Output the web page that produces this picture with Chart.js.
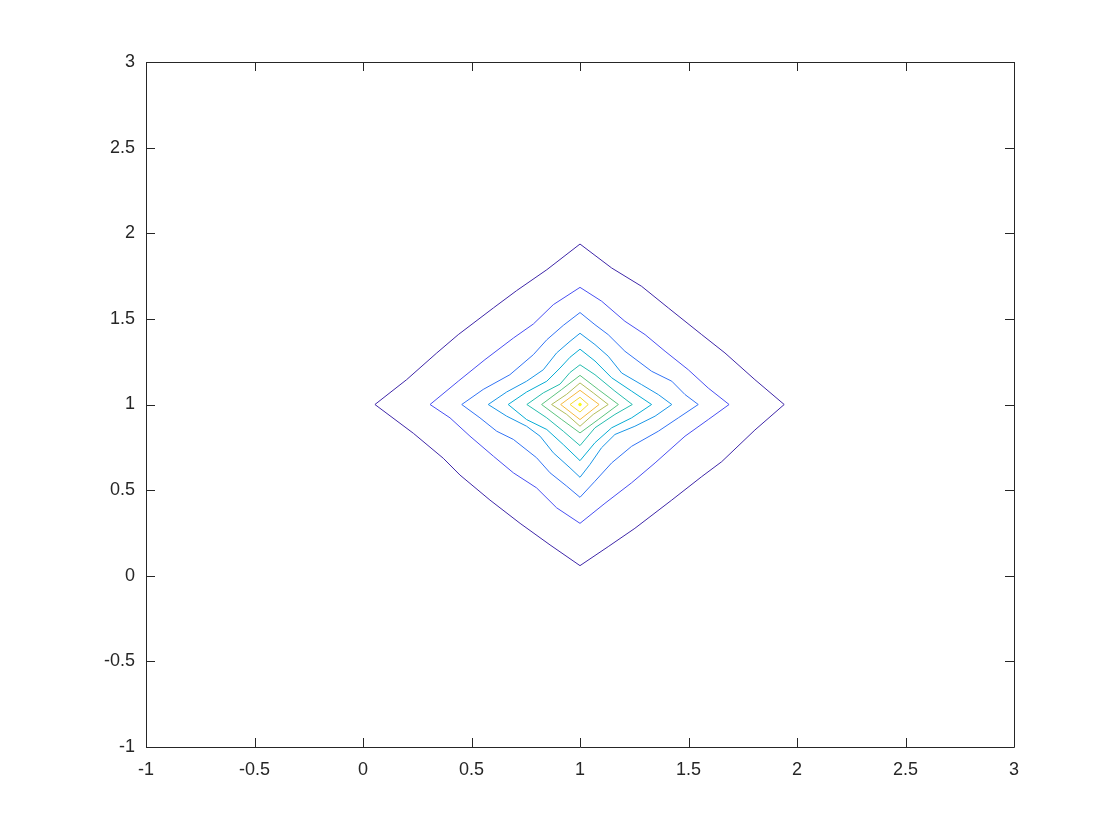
<!DOCTYPE html>
<html>
<head>
<meta charset="utf-8">
<script src="https://cdn.jsdelivr.net/npm/chart.js@4/dist/chart.umd.min.js"></script>
<style>
  html, body { margin: 0; padding: 0; background: #ffffff; }
  #canvas { display: block; }
</style>
</head>
<body>
<canvas id="canvas" width="1120" height="840"></canvas>
<script>
// contour lines, outer -> inner, each closed
var contour1 = [[0.055,1.0],[0.201,1.145],[0.340,1.301],[0.439,1.408],[0.601,1.564],[0.708,1.665],[0.847,1.787],[1.0,1.937],
  [1.146,1.797],[1.284,1.690],[1.407,1.564],[1.561,1.408],[1.668,1.301],[1.806,1.145],[1.941,1.0],
  [1.806,0.851],[1.653,0.666],[1.561,0.579],[1.423,0.442],[1.253,0.277],[1.130,0.170],[1.0,0.059],
  [0.862,0.180],[0.724,0.306],[0.585,0.442],[0.447,0.588],[0.370,0.686],[0.232,0.832],[0.055,1.0]];
var contour2 = [[0.309,1.0],[0.439,1.136],[0.562,1.262],[0.693,1.388],[0.785,1.470],[0.877,1.583],[1.0,1.684],
  [1.100,1.603],[1.207,1.486],[1.300,1.408],[1.392,1.311],[1.499,1.203],[1.591,1.096],[1.687,1.0],
  [1.591,0.912],[1.484,0.815],[1.346,0.659],[1.238,0.543],[1.115,0.423],[1.0,0.306],
  [0.892,0.397],[0.800,0.513],[0.693,0.601],[0.601,0.698],[0.493,0.815],[0.401,0.922],[0.309,1.0]];
var contour3 = [[0.455,1.0],[0.554,1.088],[0.677,1.174],[0.785,1.291],[0.847,1.378],[0.923,1.462],[1.0,1.537],
  [1.069,1.466],[1.130,1.408],[1.207,1.311],[1.330,1.194],[1.423,1.136],[1.484,1.058],[1.545,1.0],
  [1.453,0.922],[1.361,0.844],[1.238,0.756],[1.146,0.659],[1.069,0.552],[1.0,0.458],
  [0.939,0.523],[0.862,0.601],[0.800,0.689],[0.693,0.796],[0.616,0.844],[0.539,0.922],[0.455,1.0]];
var contour4 = [[0.577,1.0],[0.662,1.073],[0.754,1.136],[0.831,1.203],[0.892,1.301],[0.954,1.369],[1.0,1.416],
  [1.069,1.350],[1.130,1.282],[1.192,1.184],[1.284,1.116],[1.361,1.058],[1.423,1.0],
  [1.346,0.932],[1.253,0.873],[1.161,0.825],[1.099,0.747],[1.046,0.650],[1.0,0.575],
  [0.954,0.630],[0.877,0.718],[0.816,0.815],[0.754,0.873],[0.662,0.932],[0.577,1.0]];
var contour5 = [[0.669,1.0],[0.754,1.073],[0.847,1.136],[0.908,1.213],[0.954,1.276],[1.0,1.323],
  [1.069,1.254],[1.146,1.156],[1.238,1.078],[1.330,1.0],
  [1.238,0.922],[1.146,0.864],[1.069,0.777],[1.0,0.672],
  [0.923,0.766],[0.847,0.854],[0.754,0.912],[0.669,1.0]];
var contour6 = [[0.755,1.0],[0.831,1.068],[0.908,1.119],[0.954,1.187],[1.0,1.232],
  [1.069,1.174],[1.161,1.078],[1.241,1.0],
  [1.161,0.942],[1.069,0.864],[1.0,0.760],
  [0.923,0.844],[0.847,0.922],[0.755,1.0]];
var contour7 = [[0.823,1.0],[0.916,1.088],[1.0,1.170],[1.084,1.088],[1.177,1.0],[1.084,0.912],[1.0,0.834],[0.916,0.912],[0.823,1.0]];
var contour8 = [[0.869,1.0],[0.939,1.060],[1.0,1.126],[1.061,1.068],[1.130,1.0],[1.061,0.942],[1.0,0.873],[0.939,0.942],[0.869,1.0]];
var contour9 = [[0.911,1.0],[1.0,1.083],[1.088,1.0],[1.0,0.912],[0.911,1.0]];
var contour10 = [[0.954,1.0],[1.0,1.042],[1.038,1.0],[1.0,0.956],[0.954,1.0]];
var contour11 = [[1.0,1.0]];

var contours = [contour1, contour2, contour3, contour4, contour5, contour6, contour7, contour8, contour9, contour10, contour11];
var levelColors = ['#3e26a8','#484ff2','#3273f5','#1a96e6','#06acd4','#25bcae','#5cc37e','#b1bd5a','#f5b93f','#f4d831','#f9fb15'];

var xTicks = [-1, -0.5, 0, 0.5, 1, 1.5, 2, 2.5, 3];
var yTicks = [-1, -0.5, 0, 0.5, 1, 1.5, 2, 2.5, 3];

var axisColor = '#262626';

// matlab style box with inward ticks on all four sides
var boxPlugin = {
  id: 'box',
  afterDraw: function(chart) {
    var c = chart.ctx, a = chart.chartArea;
    var xs = chart.scales.x, ys = chart.scales.y;
    var len = 9;
    c.save();
    c.strokeStyle = axisColor;
    c.lineWidth = 1;
    c.beginPath();
    c.rect(Math.round(a.left) + 0.5, Math.round(a.top) + 0.5, Math.round(a.right - a.left), Math.round(a.bottom - a.top));
    xTicks.forEach(function(v) {
      var px = Math.round(xs.getPixelForValue(v)) + 0.5;
      c.moveTo(px, a.bottom); c.lineTo(px, a.bottom - len);
      c.moveTo(px, a.top); c.lineTo(px, a.top + len);
    });
    yTicks.forEach(function(v) {
      var py = Math.round(ys.getPixelForValue(v)) + 0.5;
      c.moveTo(a.left, py); c.lineTo(a.left + len, py);
      c.moveTo(a.right, py); c.lineTo(a.right - len, py);
    });
    c.stroke();
    c.restore();
  }
};

var datasets = contours.map(function(pts, i) {
  return {
    label: 'level ' + (i + 1),
    data: pts.map(function(p) { return { x: p[0], y: p[1] }; }),
    showLine: true,
    borderColor: levelColors[i],
    backgroundColor: levelColors[i],
    borderWidth: 1,
    pointRadius: pts.length == 1 ? 1.3 : 0,
    tension: 0,
    fill: false
  };
});

var config = {
  type: 'scatter',
  data: { datasets: datasets },
  options: {
    responsive: false,
    animation: false,
    layout: { padding: { top: 62, right: 106, left: 0, bottom: 0 } },
    plugins: { legend: { display: false }, tooltip: { enabled: false } },
    scales: {
      x: {
        type: 'linear', min: -1, max: 3,
        afterBuildTicks: function(s) { s.ticks = xTicks.map(function(v) { return { value: v }; }); },
        afterFit: function(s) { s.height = 93; },
        grid: { display: false, drawTicks: false },
        border: { display: false },
        ticks: {
          padding: 12, color: axisColor, maxRotation: 0,
          font: { family: '"Liberation Sans", Arial, sans-serif', size: 18 },
          callback: function(v) { return String(v); }
        }
      },
      y: {
        type: 'linear', min: -1, max: 3,
        afterBuildTicks: function(s) { s.ticks = yTicks.map(function(v) { return { value: v }; }); },
        afterFit: function(s) { s.width = 146; },
        grid: { display: false, drawTicks: false },
        border: { display: false },
        ticks: {
          padding: 11, color: axisColor,
          font: { family: '"Liberation Sans", Arial, sans-serif', size: 18 },
          callback: function(v) { return String(v); }
        }
      }
    }
  },
  plugins: [boxPlugin]
};

window.onload = function() {
  var ctx = document.getElementById('canvas').getContext('2d');
  window.myChart = new Chart(ctx, config);
};
</script>
</body>
</html>
